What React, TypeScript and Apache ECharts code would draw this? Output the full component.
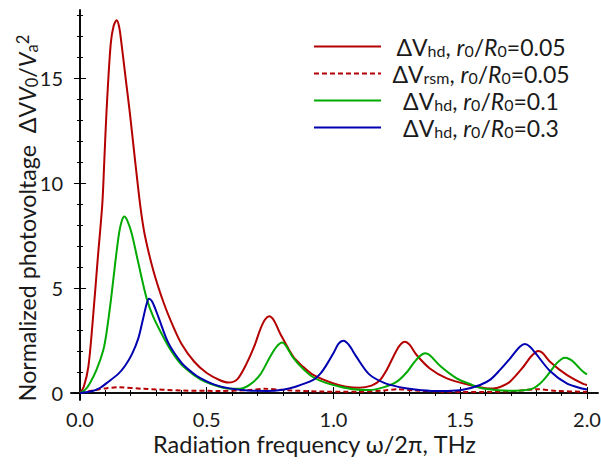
import React, { useEffect, useRef } from "react";
import * as echarts from "echarts";

// ---- tick labels / tick positions ----
const xMajorTicks = [0, 0.5, 1.0, 1.5, 2.0];
const xMinorTicks = [0.1, 0.2, 0.3, 0.4, 0.6, 0.7, 0.8, 0.9, 1.1, 1.2, 1.3, 1.4, 1.6, 1.7, 1.8, 1.9];
const yMajorTicks = [0, 5, 10, 15];
const yMinorTicks = [1, 2, 3, 4, 6, 7, 8, 9, 11, 12, 13, 14, 16, 17, 18];

// ---- series names ----
const seriesNames = ["hd005", "rsm005", "hd01", "hd03"];

// ---- ΔV_hd, r0/R0 = 0.05 (red solid) ----
const redX = [0, 0.015, 0.033, 0.05, 0.07, 0.088, 0.096, 0.105, 0.121, 0.133, 0.145, 0.155, 0.164, 0.18, 0.197, 0.217, 0.239, 0.256, 0.29, 0.33, 0.37, 0.4, 0.45, 0.5, 0.55, 0.585, 0.62, 0.657, 0.69, 0.71, 0.73, 0.747, 0.765, 0.789, 0.841, 0.88, 0.92, 1.0, 1.05, 1.1, 1.15, 1.184, 1.21, 1.236, 1.26, 1.282, 1.3, 1.328, 1.38, 1.447, 1.538, 1.6, 1.63, 1.66, 1.696, 1.749, 1.78, 1.808, 1.825, 1.854, 1.92, 1.985, 2.0];
const redY = [0, 0.3, 1.25, 3.4, 6.4, 9.0, 11.1, 13.5, 16.6, 17.5, 17.75, 17.4, 16.6, 15.0, 13.3, 11.1, 8.8, 7.5, 5.8, 4.3, 3.1, 2.35, 1.5, 0.95, 0.62, 0.5, 0.65, 1.4, 2.3, 3.0, 3.5, 3.65, 3.45, 2.85, 1.73, 1.25, 0.86, 0.45, 0.3, 0.25, 0.35, 0.62, 1.1, 1.73, 2.25, 2.44, 2.3, 1.81, 1.17, 0.7, 0.38, 0.23, 0.22, 0.3, 0.54, 1.25, 1.75, 2.0, 1.9, 1.49, 0.86, 0.43, 0.38];

// ---- ΔV_rsm, r0/R0 = 0.05 (red dashed) ----
const rsmX = [0, 0.05, 0.1, 0.15, 0.25, 0.4, 0.55, 0.65, 0.73, 0.82, 0.95, 1.1, 1.2, 1.25, 1.32, 1.45, 1.6, 1.72, 1.8, 1.88, 2.0];
const rsmY = [0, 0.12, 0.22, 0.27, 0.2, 0.12, 0.1, 0.13, 0.2, 0.13, 0.07, 0.06, 0.12, 0.18, 0.12, 0.06, 0.05, 0.1, 0.18, 0.1, 0.05];

// ---- ΔV_hd, r0/R0 = 0.1 (green) ----
const greenX = [0, 0.02, 0.039, 0.065, 0.092, 0.105, 0.122, 0.14, 0.154, 0.165, 0.175, 0.187, 0.204, 0.23, 0.263, 0.29, 0.325, 0.36, 0.4, 0.45, 0.49, 0.55, 0.6, 0.63, 0.67, 0.71, 0.75, 0.775, 0.798, 0.815, 0.84, 0.88, 0.92, 0.97, 1.026, 1.08, 1.14, 1.2, 1.25, 1.29, 1.315, 1.34, 1.361, 1.38, 1.42, 1.486, 1.538, 1.578, 1.64, 1.696, 1.75, 1.788, 1.815, 1.84, 1.86, 1.88, 1.9, 1.913, 1.93, 1.946, 1.965, 1.985, 2.0];
const greenY = [0, 0.15, 0.47, 1.1, 2.05, 2.9, 4.43, 6.3, 7.6, 8.2, 8.4, 8.2, 7.6, 6.2, 4.5, 3.6, 2.75, 2.0, 1.35, 0.85, 0.56, 0.3, 0.2, 0.2, 0.4, 0.86, 1.73, 2.2, 2.4, 2.2, 1.7, 1.15, 0.75, 0.48, 0.3, 0.18, 0.14, 0.28, 0.54, 1.0, 1.41, 1.75, 1.89, 1.8, 1.3, 0.7, 0.43, 0.25, 0.14, 0.11, 0.13, 0.22, 0.45, 0.78, 1.1, 1.41, 1.62, 1.68, 1.62, 1.49, 1.25, 1.01, 0.88];

// ---- ΔV_hd, r0/R0 = 0.3 (blue) ----
const blueX = [0, 0.05, 0.08, 0.112, 0.15, 0.178, 0.205, 0.23, 0.25, 0.262, 0.272, 0.285, 0.309, 0.348, 0.4, 0.44, 0.473, 0.53, 0.59, 0.66, 0.736, 0.8, 0.85, 0.92, 0.95, 0.973, 1.0, 1.02, 1.039, 1.06, 1.09, 1.14, 1.2, 1.26, 1.315, 1.4, 1.45, 1.51, 1.578, 1.62, 1.657, 1.69, 1.71, 1.735, 1.755, 1.775, 1.8, 1.854, 1.92, 1.985, 2.0];
const blueY = [0, 0.1, 0.25, 0.54, 0.9, 1.3, 1.85, 2.6, 3.6, 4.2, 4.49, 4.35, 3.63, 2.4, 1.45, 1.0, 0.72, 0.4, 0.22, 0.12, 0.1, 0.16, 0.3, 0.62, 0.95, 1.35, 1.9, 2.35, 2.49, 2.3, 1.73, 0.9, 0.48, 0.28, 0.18, 0.1, 0.1, 0.15, 0.38, 0.65, 1.1, 1.55, 1.85, 2.2, 2.33, 2.2, 1.85, 1.05, 0.46, 0.2, 0.17];

const zip = (xs: number[], ys: number[]) => xs.map((x, i) => [x, ys[i]]);

const FONT = "Lato, 'Open Sans', sans-serif";
const TXT = "#1a1a1a";

const legendRich = {
  m: { fontSize: 23, fontFamily: FONT, color: TXT, lineHeight: 23, align: "center" as const },
  i: { fontSize: 23, fontFamily: FONT, fontStyle: "italic" as const, color: TXT, lineHeight: 23, align: "center" as const },
  s: { fontSize: 16, fontFamily: FONT, color: TXT, lineHeight: 10, verticalAlign: "bottom" as const, align: "center" as const },
};

const legendLabels: Record<string, string> = {
  hd005: "{m|ΔV}{s|hd}{m|, }{i|r}{s|0}{m|/}{i|R}{s|0}{m|=0.05}",
  rsm005: "{m|ΔV}{s|rsm}{m|, }{i|r}{s|0}{m|/}{i|R}{s|0}{m|=0.05}",
  hd01: "{m|ΔV}{s|hd}{m|, }{i|r}{s|0}{m|/}{i|R}{s|0}{m|=0.1}",
  hd03: "{m|ΔV}{s|hd}{m|, }{i|r}{s|0}{m|/}{i|R}{s|0}{m|=0.3}",
};

const X_MIN = -0.0355;
const X_MAX = 2.0434;
const Y_MIN = -0.333;
const Y_MAX = 18.24;

export default function App() {
  const ref = useRef<HTMLDivElement>(null);
  useEffect(() => {
    document.body.style.margin = "0";
    if (!ref.current) return;
    const chart = echarts.init(ref.current, undefined, { renderer: "svg" });
    const axisLine = { show: true, lineStyle: { color: "#000", width: 1.6 } };
    const hidden = { show: false };
    const mkX = (pos: "bottom" | "top", major: boolean, labels: boolean, line: boolean) => ({
      type: "value",
      position: pos,
      min: X_MIN,
      max: X_MAX,
      axisLine: line ? axisLine : hidden,
      splitLine: hidden,
      axisTick: {
        show: true,
        inside: true,
        length: major ? 6 : 3,
        lineStyle: { color: "#000", width: 1 },
        customValues: major ? xMajorTicks : xMinorTicks,
      },
      axisLabel: labels
        ? {
            show: true,
            customValues: xMajorTicks,
            formatter: (v: number) => v.toFixed(1),
            fontSize: 20,
            fontFamily: FONT,
            color: TXT,
            margin: 9,
          }
        : hidden,
    });
    const mkY = (pos: "left" | "right", major: boolean, labels: boolean, line: boolean) => ({
      type: "value",
      position: pos,
      min: Y_MIN,
      max: Y_MAX,
      axisLine: line ? axisLine : hidden,
      splitLine: hidden,
      axisTick: {
        show: true,
        inside: true,
        length: major ? 6 : 3,
        lineStyle: { color: "#000", width: 1 },
        customValues: major ? yMajorTicks : yMinorTicks,
      },
      axisLabel: labels
        ? {
            show: true,
            customValues: yMajorTicks,
            formatter: (v: number) => String(v),
            fontSize: 20,
            fontFamily: FONT,
            color: TXT,
            margin: 8,
          }
        : hidden,
    });

    const xAxes: any[] = [mkX("bottom", true, true, true), mkX("bottom", false, false, false), mkX("top", true, false, true), mkX("top", false, false, false)];
    xAxes[0].name = "Radiation frequency ω/2π, THz";
    xAxes[0].nameLocation = "middle";
    xAxes[0].nameGap = 32;
    xAxes[0].nameMoveOverlap = false;
    xAxes[0].nameTextStyle = { fontSize: 23.5, fontFamily: FONT, color: TXT, padding: [0, 40, 0, 0] };

    const yAxes: any[] = [mkY("left", true, true, true), mkY("left", false, false, false), mkY("right", true, false, true), mkY("right", false, false, false)];
    yAxes[0].name = "{m|Normalized photovoltage  ΔV}{i|V}{s|0}{m|/}{i|V}{s|a}{p|2}";
    yAxes[0].nameLocation = "middle";
    yAxes[0].nameGap = 31;
    yAxes[0].nameMoveOverlap = false;
    yAxes[0].nameTextStyle = {
      padding: [0, 26, 0, 0],
      rich: {
        m: { fontSize: 23.2, fontFamily: FONT, color: TXT, lineHeight: 26 },
        i: { fontSize: 23.2, fontFamily: FONT, fontStyle: "italic", color: TXT, lineHeight: 26 },
        s: { fontSize: 16.5, fontFamily: FONT, color: TXT, lineHeight: 10, verticalAlign: "bottom" },
        p: { fontSize: 16.5, fontFamily: FONT, color: TXT, lineHeight: 10, verticalAlign: "top" },
      },
    };

    const colors = ["#b40000", "#b40000", "#00aa00", "#0000b0"];
    const datas = [zip(redX, redY), zip(rsmX, rsmY), zip(greenX, greenY), zip(blueX, blueY)];

    chart.setOption({
      animation: false,
      backgroundColor: "#fff",
      grid: { left: 71, top: 10, right: 3, bottom: 66, containLabel: false, outerBoundsMode: "none" },
      xAxis: xAxes,
      yAxis: yAxes,
      legend: {
        orient: "vertical",
        left: 313,
        top: 35,
        padding: 0,
        itemWidth: 67,
        itemHeight: 14,
        itemGap: 4,
        data: seriesNames,
        formatter: (name: string) => legendLabels[name],
        itemStyle: { opacity: 0 },
        textStyle: { width: 190, rich: legendRich },
      },
      series: seriesNames.map((name, i) => ({
        name,
        type: "line",
        xAxisIndex: 0,
        yAxisIndex: 0,
        data: datas[i],
        symbol: "none",
        smooth: 0.3,
        color: colors[i],
        lineStyle: { color: colors[i], width: 2, type: i === 1 ? [5, 3] : "solid" },
        z: i === 1 ? 1 : 2,
      })),
    });
    return () => chart.dispose();
  }, []);
  return <div ref={ref} style={{ width: 601, height: 466 }} />;
}
